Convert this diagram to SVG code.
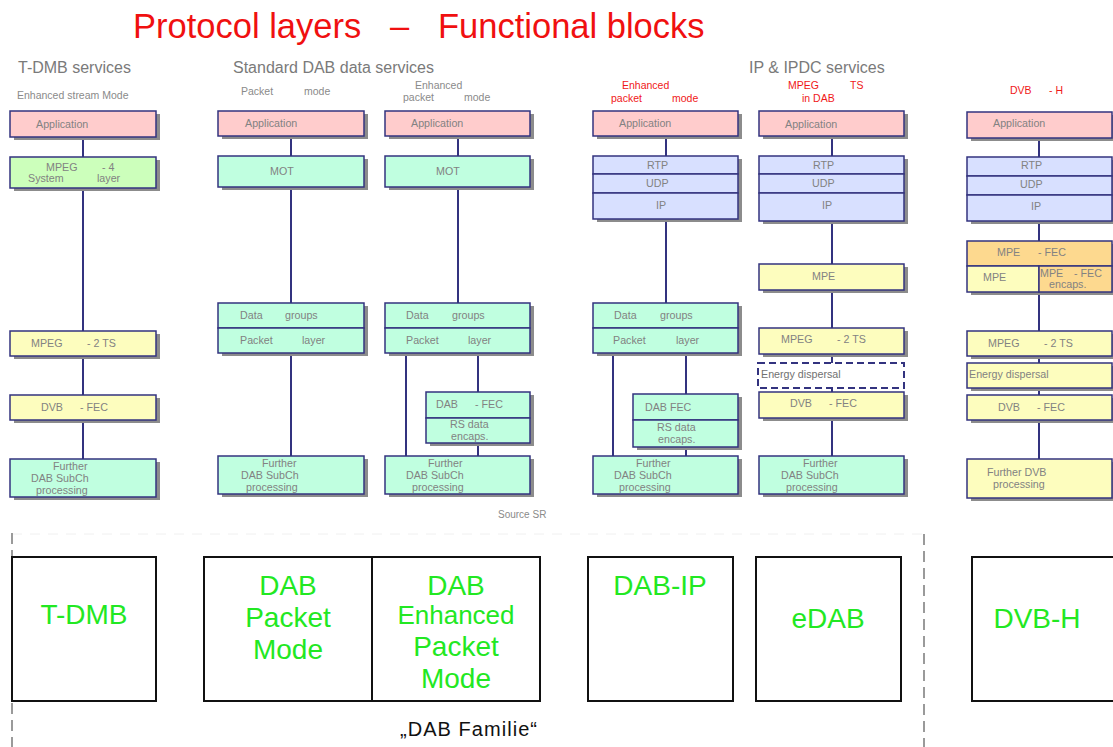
<svg xmlns="http://www.w3.org/2000/svg" width="1113" height="747" viewBox="0 0 1113 747">
  <style>
    text { font-family: "Liberation Sans", Arial, sans-serif; }
    .title { font-size: 34.5px; fill: #f01010; }
    .hdr { font-size: 16px; fill: #7a7a7a; }
    .sub { font-size: 10.5px; fill: #8a8a8a; }
    .red { font-size: 10.5px; fill: #f01818; }
    .t { font-size: 10.7px; fill: #828282; }
    .ed { font-size: 10.7px; fill: #707070; }
    .box { stroke: #33337f; stroke-width: 1.5; }
    .sh { fill: #8c8c8c; }
    .app { fill: #ffcccc; }
    .grn { fill: #ccffbb; }
    .mint { fill: #c0ffe0; }
    .lav { fill: #d8e0ff; }
    .yel { fill: #fdfdbe; }
    .org { fill: #fdd98f; }
    .dash { fill: #ffffff; stroke: #33337f; stroke-width: 2; stroke-dasharray: 7 4; }
    .ln { stroke: #33337f; stroke-width: 2; fill: none; }
    .fam { fill: #ffffff; stroke: #111111; stroke-width: 2; }
    .big { font-size: 28px; fill: #22e822; text-anchor: middle; }
    .src { font-size: 10px; fill: #8a8a8a; }
    .sep { stroke: #9a9a9a; stroke-width: 2; stroke-dasharray: 11 6; fill: none; }
    .sepl { stroke: #f0f0f0; stroke-width: 1; stroke-dasharray: 10 8; fill: none; }
  </style>

  <!-- heading -->
  <g id="title">
    <text class="title" x="133" y="38">Protocol layers</text>
    <text class="title" x="390" y="38">–</text>
    <text class="title" x="438" y="38">Functional blocks</text>
  </g>

  <!-- column headings -->
  <g id="headings">
    <text class="hdr" x="18" y="73">T-DMB services</text>
    <text class="sub" x="17" y="99">Enhanced stream Mode</text>
    <text class="hdr" x="233" y="73">Standard DAB data services</text>
    <text class="sub" x="241" y="95">Packet</text>
    <text class="sub" x="304" y="95">mode</text>
    <text class="sub" x="415" y="89">Enhanced</text>
    <text class="sub" x="403" y="101">packet</text>
    <text class="sub" x="464" y="101">mode</text>
    <text class="hdr" x="749" y="73">IP &amp; IPDC services</text>
    <text class="red" x="622" y="89">Enhanced</text>
    <text class="red" x="611" y="102">packet</text>
    <text class="red" x="672" y="102">mode</text>
    <text class="red" x="788" y="89">MPEG</text>
    <text class="red" x="850" y="89">TS</text>
    <text class="red" x="802" y="102">in DAB</text>
    <text class="red" x="1010" y="94">DVB</text>
    <text class="red" x="1049" y="94">- H</text>
  </g>

  <!-- connectors between layers -->
  <g id="connectors">
    <path class="ln" d="M83 137V157 M83 188V331 M83 356V395 M83 420V459"/>
    <path class="ln" d="M291 136V156 M291 187V303 M291 353V456"/>
    <path class="ln" d="M458 136V156 M458 187V303 M406 353V456 M478 353V392 M478 443V456"/>
    <path class="ln" d="M666 136V156 M666 219V303 M613 353V456 M686 353V394 M686 447V456"/>
    <path class="ln" d="M832 136V156 M832 221V264 M832 290V328 M832 354V363 M832 388V392 M832 418V456"/>
    <path class="ln" d="M1039 138V157 M1039 221V241 M1039 292V331 M1039 356V363 M1039 388V395 M1039 420V459"/>
  </g>

  <!-- T-DMB stack -->
  <g id="tdmb-app">
    <rect class="sh" x="14" y="114" width="146" height="26"/>
    <rect class="box app" x="10" y="111" width="146" height="26"/>
    <text class="t" x="36" y="128">Application</text>
  </g>
  <g id="tdmb-mpeg4">
    <rect class="sh" x="14" y="160" width="146" height="31"/>
    <rect class="box grn" x="10" y="157" width="146" height="31"/>
    <text class="t" x="46" y="171">MPEG</text>
    <text class="t" x="102" y="171">- 4</text>
    <text class="t" x="28" y="182">System</text>
    <text class="t" x="97" y="182">layer</text>
  </g>
  <g id="tdmb-mpeg2ts">
    <rect class="sh" x="14" y="334" width="146" height="25"/>
    <rect class="box yel" x="10" y="331" width="146" height="25"/>
    <text class="t" x="31" y="347">MPEG</text>
    <text class="t" x="87" y="347">- 2 TS</text>
  </g>
  <g id="tdmb-dvbfec">
    <rect class="sh" x="14" y="398" width="146" height="25"/>
    <rect class="box yel" x="10" y="395" width="146" height="25"/>
    <text class="t" x="41" y="411">DVB</text>
    <text class="t" x="80" y="411">- FEC</text>
  </g>
  <g id="tdmb-further">
    <rect class="sh" x="14" y="462" width="146" height="38"/>
    <rect class="box mint" x="10" y="459" width="146" height="38"/>
    <text class="t" x="53" y="470">Further</text>
    <text class="t" x="31" y="482">DAB SubCh</text>
    <text class="t" x="36" y="494">processing</text>
  </g>

  <!-- DAB packet mode stack -->
  <g id="pm-app">
    <rect class="sh" x="222" y="114" width="146" height="25"/>
    <rect class="box app" x="218" y="111" width="146" height="25"/>
    <text class="t" x="245" y="127">Application</text>
  </g>
  <g id="pm-mot">
    <rect class="sh" x="222" y="159" width="146" height="31"/>
    <rect class="box mint" x="218" y="156" width="146" height="31"/>
    <text class="t" x="270" y="175">MOT</text>
  </g>
  <g id="pm-packet">
    <rect class="sh" x="222" y="306" width="146" height="50"/>
    <rect class="box mint" x="218" y="303" width="146" height="25"/>
    <rect class="box mint" x="218" y="328" width="146" height="25"/>
    <text class="t" x="240" y="319">Data</text>
    <text class="t" x="285" y="319">groups</text>
    <text class="t" x="240" y="344">Packet</text>
    <text class="t" x="302" y="344">layer</text>
  </g>
  <g id="pm-further">
    <rect class="sh" x="222" y="459" width="146" height="38"/>
    <rect class="box mint" x="218" y="456" width="146" height="38"/>
    <text class="t" x="262" y="467">Further</text>
    <text class="t" x="241" y="479">DAB SubCh</text>
    <text class="t" x="246" y="491">processing</text>
  </g>

  <!-- DAB enhanced packet mode stack -->
  <g id="epm-app">
    <rect class="sh" x="389" y="114" width="145" height="25"/>
    <rect class="box app" x="385" y="111" width="145" height="25"/>
    <text class="t" x="411" y="127">Application</text>
  </g>
  <g id="epm-mot">
    <rect class="sh" x="389" y="159" width="145" height="31"/>
    <rect class="box mint" x="385" y="156" width="145" height="31"/>
    <text class="t" x="436" y="175">MOT</text>
  </g>
  <g id="epm-packet">
    <rect class="sh" x="389" y="306" width="145" height="50"/>
    <rect class="box mint" x="385" y="303" width="145" height="25"/>
    <rect class="box mint" x="385" y="328" width="145" height="25"/>
    <text class="t" x="406" y="319">Data</text>
    <text class="t" x="452" y="319">groups</text>
    <text class="t" x="406" y="344">Packet</text>
    <text class="t" x="468" y="344">layer</text>
  </g>
  <g id="epm-fec">
    <rect class="sh" x="430" y="395" width="104" height="51"/>
    <rect class="box mint" x="426" y="392" width="104" height="26"/>
    <rect class="box mint" x="426" y="418" width="104" height="25"/>
    <text class="t" x="436" y="408">DAB</text>
    <text class="t" x="475" y="408">- FEC</text>
    <text class="t" x="450" y="428">RS data</text>
    <text class="t" x="451" y="440">encaps.</text>
  </g>
  <g id="epm-further">
    <rect class="sh" x="389" y="459" width="145" height="38"/>
    <rect class="box mint" x="385" y="456" width="145" height="38"/>
    <text class="t" x="428" y="467">Further</text>
    <text class="t" x="406" y="479">DAB SubCh</text>
    <text class="t" x="412" y="491">processing</text>
  </g>

  <!-- DAB-IP stack -->
  <g id="ip-app">
    <rect class="sh" x="597" y="114" width="145" height="25"/>
    <rect class="box app" x="593" y="111" width="145" height="25"/>
    <text class="t" x="619" y="127">Application</text>
  </g>
  <g id="ip-rtp">
    <rect class="sh" x="597" y="159" width="145" height="63"/>
    <rect class="box lav" x="593" y="156" width="145" height="18"/>
    <rect class="box lav" x="593" y="174" width="145" height="19"/>
    <rect class="box lav" x="593" y="193" width="145" height="26"/>
    <text class="t" x="647" y="169">RTP</text>
    <text class="t" x="646" y="187">UDP</text>
    <text class="t" x="656" y="209">IP</text>
  </g>
  <g id="ip-packet">
    <rect class="sh" x="597" y="306" width="145" height="50"/>
    <rect class="box mint" x="593" y="303" width="145" height="25"/>
    <rect class="box mint" x="593" y="328" width="145" height="25"/>
    <text class="t" x="614" y="319">Data</text>
    <text class="t" x="660" y="319">groups</text>
    <text class="t" x="613" y="344">Packet</text>
    <text class="t" x="676" y="344">layer</text>
  </g>
  <g id="ip-fec">
    <rect class="sh" x="637" y="397" width="105" height="53"/>
    <rect class="box mint" x="633" y="394" width="105" height="26"/>
    <rect class="box mint" x="633" y="420" width="105" height="27"/>
    <text class="t" x="645" y="411">DAB FEC</text>
    <text class="t" x="657" y="431">RS data</text>
    <text class="t" x="658" y="443">encaps.</text>
  </g>
  <g id="ip-further">
    <rect class="sh" x="597" y="459" width="145" height="38"/>
    <rect class="box mint" x="593" y="456" width="145" height="38"/>
    <text class="t" x="636" y="467">Further</text>
    <text class="t" x="614" y="479">DAB SubCh</text>
    <text class="t" x="619" y="491">processing</text>
  </g>

  <!-- eDAB stack -->
  <g id="ts-app">
    <rect class="sh" x="763" y="114" width="145" height="25"/>
    <rect class="box app" x="759" y="111" width="145" height="25"/>
    <text class="t" x="785" y="128">Application</text>
  </g>
  <g id="ts-rtp">
    <rect class="sh" x="763" y="159" width="145" height="65"/>
    <rect class="box lav" x="759" y="156" width="145" height="18"/>
    <rect class="box lav" x="759" y="174" width="145" height="19"/>
    <rect class="box lav" x="759" y="193" width="145" height="28"/>
    <text class="t" x="813" y="169">RTP</text>
    <text class="t" x="812" y="187">UDP</text>
    <text class="t" x="822" y="209">IP</text>
  </g>
  <g id="ts-mpe">
    <rect class="sh" x="763" y="267" width="145" height="26"/>
    <rect class="box yel" x="759" y="264" width="145" height="26"/>
    <text class="t" x="812" y="280">MPE</text>
  </g>
  <g id="ts-mpeg2ts">
    <rect class="sh" x="763" y="331" width="145" height="26"/>
    <rect class="box yel" x="759" y="328" width="145" height="26"/>
    <text class="t" x="781" y="343">MPEG</text>
    <text class="t" x="837" y="343">- 2 TS</text>
  </g>
  <g id="ts-energy">
    <rect class="dash" x="758" y="363" width="146" height="25"/>
    <text class="ed" x="761" y="378">Energy dispersal</text>
  </g>
  <g id="ts-dvbfec">
    <rect class="sh" x="763" y="395" width="145" height="26"/>
    <rect class="box yel" x="759" y="392" width="145" height="26"/>
    <text class="t" x="790" y="407">DVB</text>
    <text class="t" x="829" y="407">- FEC</text>
  </g>
  <g id="ts-further">
    <rect class="sh" x="763" y="459" width="145" height="38"/>
    <rect class="box mint" x="759" y="456" width="145" height="38"/>
    <text class="t" x="803" y="467">Further</text>
    <text class="t" x="781" y="479">DAB SubCh</text>
    <text class="t" x="786" y="491">processing</text>
  </g>

  <!-- DVB-H stack -->
  <g id="dvbh-app">
    <rect class="sh" x="971" y="115" width="145" height="26"/>
    <rect class="box app" x="967" y="112" width="145" height="26"/>
    <text class="t" x="993" y="127">Application</text>
  </g>
  <g id="dvbh-rtp">
    <rect class="sh" x="971" y="160" width="145" height="64"/>
    <rect class="box lav" x="967" y="157" width="145" height="19"/>
    <rect class="box lav" x="967" y="176" width="145" height="19"/>
    <rect class="box lav" x="967" y="195" width="145" height="26"/>
    <text class="t" x="1021" y="169">RTP</text>
    <text class="t" x="1020" y="188">UDP</text>
    <text class="t" x="1031" y="210">IP</text>
  </g>
  <g id="dvbh-mpefec">
    <rect class="sh" x="971" y="244" width="145" height="51"/>
    <rect class="box org" x="967" y="241" width="145" height="25"/>
    <rect class="box yel" x="967" y="266" width="72" height="26"/>
    <rect class="box org" x="1039" y="266" width="73" height="26"/>
    <text class="t" x="997" y="256">MPE</text>
    <text class="t" x="1038" y="256">- FEC</text>
    <text class="t" x="983" y="281">MPE</text>
    <text class="t" x="1040" y="277">MPE</text>
    <text class="t" x="1074" y="277">- FEC</text>
    <text class="t" x="1049" y="288">encaps.</text>
  </g>
  <g id="dvbh-mpeg2ts">
    <rect class="sh" x="971" y="334" width="145" height="25"/>
    <rect class="box yel" x="967" y="331" width="145" height="25"/>
    <text class="t" x="988" y="347">MPEG</text>
    <text class="t" x="1044" y="347">- 2 TS</text>
  </g>
  <g id="dvbh-energy">
    <rect class="sh" x="971" y="366" width="145" height="25"/>
    <rect class="box yel" x="967" y="363" width="145" height="25"/>
    <text class="t" x="969" y="378">Energy dispersal</text>
  </g>
  <g id="dvbh-dvbfec">
    <rect class="sh" x="971" y="398" width="145" height="25"/>
    <rect class="box yel" x="967" y="395" width="145" height="25"/>
    <text class="t" x="998" y="411">DVB</text>
    <text class="t" x="1037" y="411">- FEC</text>
  </g>
  <g id="dvbh-further">
    <rect class="sh" x="971" y="462" width="145" height="39"/>
    <rect class="box yel" x="967" y="459" width="145" height="39"/>
    <text class="t" x="987" y="476">Further DVB</text>
    <text class="t" x="993" y="488">processing</text>
  </g>

  <text class="src" x="498" y="518">Source SR</text>

  <!-- family boundary -->
  <g id="family-frame">
    <path class="sepl" d="M12 534H924"/>
    <path class="sep" d="M12 533V747"/>
    <path class="sep" d="M924 534V747"/>
  </g>

  <!-- system blocks -->
  <g id="sys-tdmb">
    <rect class="fam" x="12" y="557" width="144" height="144"/>
    <text class="big" x="84" y="624">T-DMB</text>
  </g>
  <g id="sys-dab-pm">
    <rect class="fam" x="204" y="557" width="168" height="144"/>
    <text class="big" x="288" y="595">DAB</text>
    <text class="big" x="288" y="627">Packet</text>
    <text class="big" x="288" y="659">Mode</text>
  </g>
  <g id="sys-dab-epm">
    <rect class="fam" x="372" y="557" width="168" height="144"/>
    <text class="big" x="456" y="595">DAB</text>
    <text class="big" x="456" y="624" style="font-size:26px">Enhanced</text>
    <text class="big" x="456" y="656">Packet</text>
    <text class="big" x="456" y="688">Mode</text>
  </g>
  <g id="sys-dab-ip">
    <rect class="fam" x="588" y="557" width="145" height="144"/>
    <text class="big" x="660" y="595">DAB-IP</text>
  </g>
  <g id="sys-edab">
    <rect class="fam" x="756" y="557" width="145" height="144"/>
    <text class="big" x="828" y="628">eDAB</text>
  </g>
  <g id="sys-dvbh">
    <rect class="fam" x="972" y="557" width="150" height="144"/>
    <text class="big" x="1037" y="628">DVB-H</text>
  </g>

  <text x="400" y="736" style="font-size:20px; fill:#111111" textLength="137">„DAB Familie“</text>
</svg>
